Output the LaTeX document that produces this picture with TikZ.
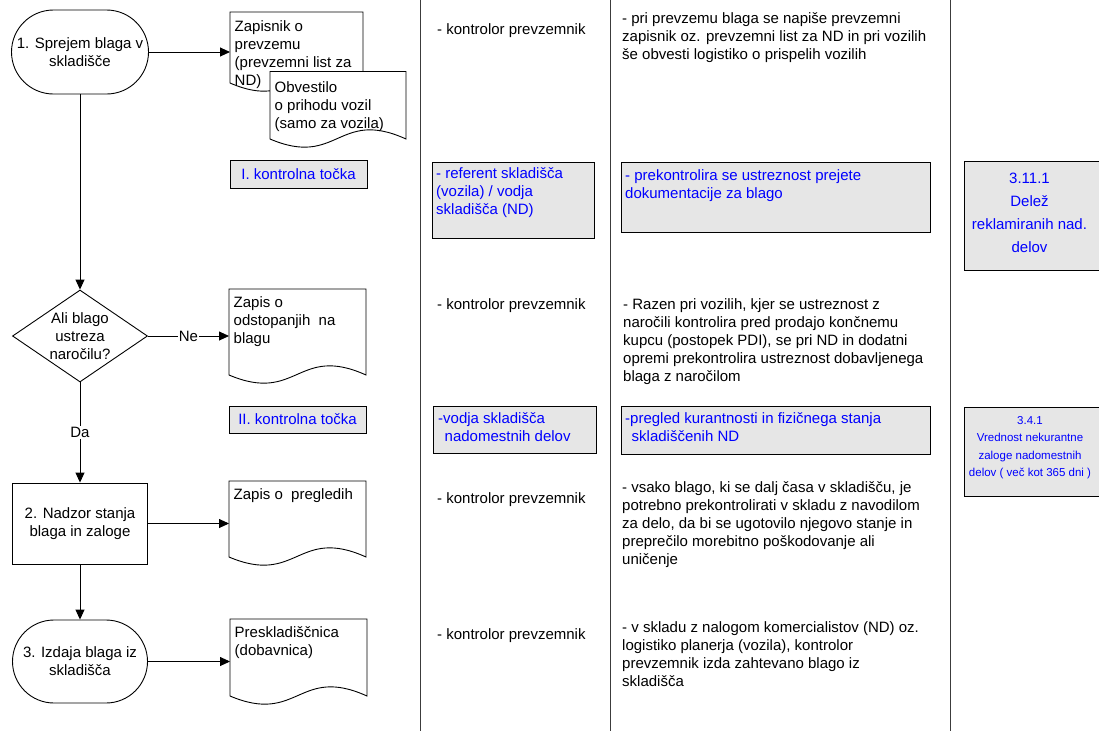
\documentclass[tikz,border=0pt]{standalone}
\usepackage{fontspec}
\setmainfont{Liberation Sans}
\usetikzlibrary{shapes.geometric,shapes.misc,arrows.meta}
\definecolor{boxgray}{RGB}{230,230,230}
\definecolor{txtblue}{RGB}{0,0,255}
\definecolor{sepgray}{RGB}{60,60,60}
\newcommand\fl{\rule{0pt}{11pt}}
\newcommand\docnode[7]{%
  \draw[docline] (#2,#3) -- (#4,#3) -- (#4,#5-9) .. controls ({(#2+#4)/2},#5-40) and ({(#2+#4)/2},#5+20) .. (#2,#5-9) -- cycle;
  \node[inner sep=0, minimum width={(#4-#2)*1pt}, minimum height={(#5-#3)*1pt}, anchor=north west] (#1) at (#2,#3) {};
  \node[txt, anchor=north west] (#1-t) at (#2+4.5,#6) {\fl #7};
}
\tikzset{
  txt/.style={font=\fontsize{15}{18}\selectfont, inner sep=0, align=left},
  docline/.style={draw=black, line width=0.9pt, fill=white},
  terminal/.style={rounded rectangle, draw=black, line width=0.9pt, fill=white, inner sep=0, align=center, font=\fontsize{15}{18}\selectfont},
  procbox/.style={rectangle, draw=black, line width=0.9pt, fill=white, inner sep=0, align=center, font=\fontsize{15}{18}\selectfont},
  decision/.style={diamond, draw=black, line width=0.9pt, fill=white, inner sep=0},
  gbox/.style={rectangle, draw=black, line width=0.9pt, fill=boxgray, inner sep=0},
  arr/.style={draw=black, line width=0.9pt, -{Triangle[length=10pt,width=9pt]}},
  sepline/.style={draw=sepgray, line width=1.3pt},
  lbl/.style={font=\fontsize{15}{18}\selectfont, fill=white, inner sep=1pt},
}
\begin{document}
\begin{tikzpicture}[x=1pt,y=-1pt]
\useasboundingbox (0,0) rectangle (1099,731);
\fill[white] (0,0) rectangle (1099,731);

% column separators
\draw[sepline] (420.5,0) -- (420.5,731);
\draw[sepline] (610.5,0) -- (610.5,731);
\draw[sepline] (950.5,0) -- (950.5,731);

% ---- column 1: flow ----
\node[terminal, minimum width=137pt, minimum height=84pt] (t1) at (80,52) {\fl 1. Sprejem blaga v\\skladišče};
\docnode{doc1}{230}{12}{363}{92}{20}{Zapisnik o\\prevzemu\\(prevzemni list za\\ND)}
\docnode{doc2}{270}{71.5}{406}{148}{81}{Obvestilo\\o prihodu vozil\\(samo za vozila)}

\node[gbox, minimum width=137pt, minimum height=28pt, text=txtblue, font=\fontsize{15}{18}\selectfont] (kt1) at (298.5,174) {I. kontrolna točka};

\node[decision, minimum width=135pt, minimum height=92pt,
  label={[txt, align=center, name=d1-t]center:{\fl Ali blago\\ustreza\\naročilu?}}] (d1) at (80,336) {};
\docnode{doc3}{229}{289}{366}{384}{296}{Zapis o\\odstopanjih~ na\\blagu}

\node[gbox, minimum width=137pt, minimum height=27pt, text=txtblue, font=\fontsize{15}{18}\selectfont] (kt2) at (297.5,419.5) {II. kontrolna točka};

\node[procbox, minimum width=135pt, minimum height=81pt] (r2) at (80,523.5) {\fl 2. Nadzor stanja\\blaga in zaloge};
\docnode{doc4}{229}{481}{366}{566}{488}{Zapis o~ pregledih}

\node[terminal, minimum width=135pt, minimum height=83pt] (t3) at (80,661.5) {\fl 3. Izdaja blaga iz\\skladišča};
\docnode{doc5}{230}{619}{367}{705}{626}{Preskladiščnica\\(dobavnica)}

% connectors
\draw[arr] (t1.east) -- (t1.east -| doc1.west);
\draw[arr] (t1.south) -- (d1.north);
\draw[arr] (d1.east) -- node[lbl] (ne) {Ne} (d1.east -| doc3.west);
\draw[arr] (d1.south) -- node[lbl] (da) {Da} (r2.north);
\draw[arr] (r2.east) -- (r2.east -| doc4.west);
\draw[arr] (r2.south) -- (t3.north);
\draw[arr] (t3.east) -- (t3.east -| doc5.west);

% ---- column 2: responsible ----
\node[txt, anchor=north west] (k1) at (437,23) {\fl - kontrolor prevzemnik};
\node[gbox, anchor=north west, minimum width=162pt, minimum height=76pt] (rb1) at (432,162) {};
\node[txt, anchor=north west, text=txtblue] (rb1-t) at (436,167) {\fl - referent skladišča\\(vozila) / vodja\\skladišča (ND)};
\node[txt, anchor=north west] (k2) at (437,298.5) {\fl - kontrolor prevzemnik};
\node[gbox, anchor=north west, minimum width=163pt, minimum height=47pt] (rb2) at (433,406) {};
\node[txt, anchor=north west, text=txtblue] (rb2-t) at (438,412.5) {\fl -vodja skladišča\\\hspace*{6.5pt}nadomestnih delov};
\node[txt, anchor=north west] (k3) at (437,492) {\fl - kontrolor prevzemnik};
\node[txt, anchor=north west] (k4) at (437,628.5) {\fl - kontrolor prevzemnik};

% ---- column 3: description ----
\node[txt, anchor=north west] (o1) at (622,12.5) {\fl - pri prevzemu blaga se napiše prevzemni\\zapisnik oz. prevzemni list za ND in pri vozilih\\še obvesti logistiko o prispelih vozilih};
\node[gbox, anchor=north west, minimum width=309pt, minimum height=70pt] (ob1) at (621,162) {};
\node[txt, anchor=north west, text=txtblue] (ob1-t) at (625,169) {\fl - prekontrolira se ustreznost prejete\\dokumentacije za blago};
\node[txt, anchor=north west] (o2) at (623,298.5) {\fl - Razen pri vozilih, kjer se ustreznost z\\naročili kontrolira pred prodajo končnemu\\kupcu (postopek PDI), se pri ND in dodatni\\opremi prekontrolira ustreznost dobavljenega\\blaga z naročilom};
\node[gbox, anchor=north west, minimum width=309pt, minimum height=48pt] (ob2) at (621,406) {};
\node[txt, anchor=north west, text=txtblue] (ob2-t) at (625,412.5) {\fl -pregled kurantnosti in fizičnega stanja\\\hspace*{6.5pt}skladiščenih ND};
\node[txt, anchor=north west] (o3) at (622,481.5) {\fl - vsako blago, ki se dalj časa v skladišču, je\\potrebno prekontrolirati v skladu z navodilom\\za delo, da bi se ugotovilo njegovo stanje in\\preprečilo morebitno poškodovanje ali\\uničenje};
\node[txt, anchor=north west] (o4) at (622,621.5) {\fl - v skladu z nalogom komercialistov (ND) oz.\\logistiko planerja (vozila), kontrolor\\prevzemnik izda zahtevano blago iz\\skladišča};

% ---- column 4: indicators ----
\node[gbox, anchor=north west, minimum width=140pt, minimum height=109pt] (m1) at (964,161) {};
\node[anchor=north, inner sep=0, align=center, text=txtblue, font=\fontsize{15}{23}\selectfont] (m1-t) at (1029.5,172.5) {\fl 3.11.1\\Delež\\reklamiranih nad.\\delov};
\node[gbox, anchor=north west, minimum width=140pt, minimum height=89pt] (m2) at (964,407) {};
\node[anchor=north, inner sep=0, align=center, text=txtblue, font=\fontsize{11.5}{17.4}\selectfont] (m2-t) at (1030,415.5) {\rule{0pt}{8.5pt}3.4.1\\Vrednost nekurantne\\zaloge nadomestnih\\delov ( več kot 365 dni )};
\end{tikzpicture}
\end{document}
